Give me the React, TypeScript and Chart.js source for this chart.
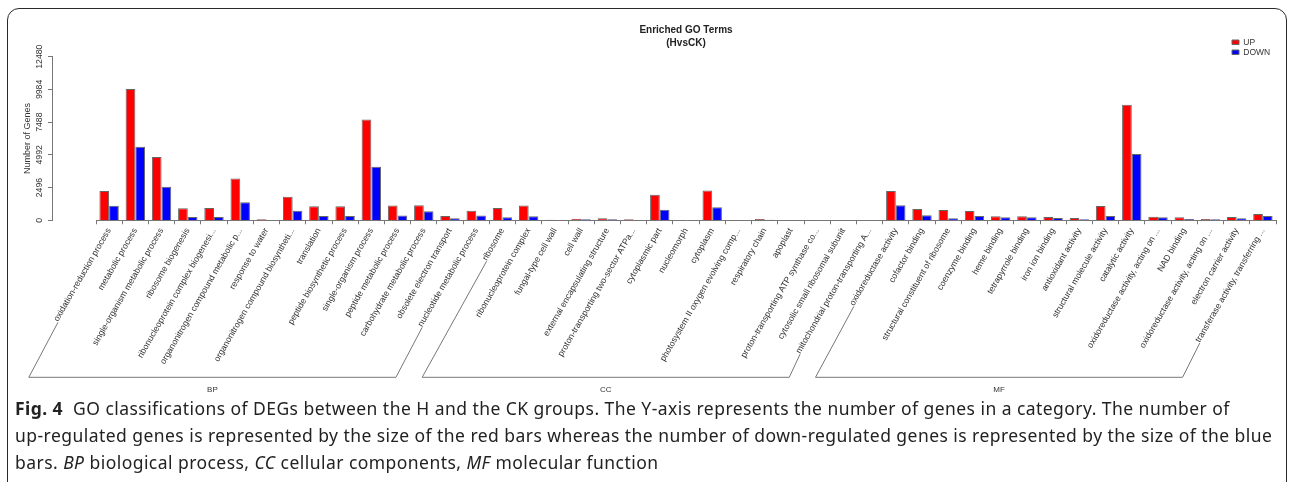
import React, { useEffect, useRef } from 'react';
import { Chart, registerables } from 'chart.js';

Chart.register(...registerables);

// ---------- data ----------
const categories: string[] = [
  'oxidation-reduction process',
  'metabolic process',
  'single-organism metabolic process',
  'ribosome biogenesis',
  'ribonucleoprotein complex biogenesi...',
  'organonitrogen compound metabolic p...',
  'response to water',
  'organonitrogen compound biosyntheti...',
  'translation',
  'peptide biosynthetic process',
  'single-organism process',
  'peptide metabolic process',
  'carbohydrate metabolic process',
  'obsolete electron transport',
  'nucleotide metabolic process',
  'ribosome',
  'ribonucleoprotein complex',
  'fungal-type cell wall',
  'cell wall',
  'external encapsulating structure',
  'proton-transporting two-sector ATPa...',
  'cytoplasmic part',
  'nucleomorph',
  'cytoplasm',
  'photosystem II oxygen evolving comp...',
  'respiratory chain',
  'apoplast',
  'proton-transporting ATP synthase co...',
  'cytosolic small ribosomal subunit',
  'mitochondrial proton-transporting A...',
  'oxidoreductase activity',
  'cofactor binding',
  'structural constituent of ribosome',
  'coenzyme binding',
  'heme binding',
  'tetrapyrrole binding',
  'iron ion binding',
  'antioxidant activity',
  'structural molecule activity',
  'catalytic activity',
  'oxidoreductase activity, acting on ...',
  'NAD binding',
  'oxidoreductase activity, acting on ...',
  'electron carrier activity',
  'transferase activity, transferring ...',
];

const upValues: number[] = [
  2240, 10020, 4830, 920, 940, 3180, 76, 1800, 1070, 1070, 7680, 1120, 1140, 330, 730,
  940, 1120, 50, 115, 150, 76, 1950, 0, 2280, 30, 100, 20, 20, 15, 10,
  2240, 860, 790, 710, 305, 305, 250, 176, 1090, 8820, 280, 230, 100, 250, 480,
];

const downValues: number[] = [
  1110, 5620, 2560, 250, 250, 1370, 0, 730, 330, 330, 4090, 360, 690, 150, 360,
  230, 305, 30, 76, 76, 30, 810, 0, 990, 20, 40, 15, 10, 10, 5,
  1140, 380, 150, 330, 230, 230, 176, 76, 330, 5060, 230, 100, 76, 150, 330,
];

const seriesNames: string[] = ['UP', 'DOWN'];
const yTicks: number[] = [0, 2496, 4992, 7488, 9984, 12480];
const groupNames: string[] = ['BP', 'CC', 'MF'];
const groupSizes: number[] = [15, 15, 15];
const titleLines: string[] = ['Enriched GO Terms', '(HvsCK)'];
const yAxisTitle = 'Number of Genes';

// ---------- styles ----------
const FONT = '"Liberation Sans", Arial, sans-serif';
const TICK_SIZE = 8.7;
const TICK_LEN = 4;
const TICK_PAD = 2;
const LABEL_ROT = 60;
const AXIS_COLOR = '#777777';
const TEXT_COLOR = '#333333';

const bracketPlugin = {
  id: 'goBrackets',
  afterDraw(chart: any) {
    const xs = chart.scales.x;
    const ctx: CanvasRenderingContext2D = chart.ctx;
    const rot = (LABEL_ROT * Math.PI) / 180;
    const diagTan = Math.tan((62 * Math.PI) / 180);
    const yA = xs.top + TICK_LEN + TICK_PAD;
    const yBase = yA + 151;
    ctx.save();
    ctx.font = `${TICK_SIZE}px ${FONT}`;
    ctx.strokeStyle = AXIS_COLOR;
    ctx.lineWidth = 1;
    let start = 0;
    groupSizes.forEach((n, g) => {
      const ends = [start, start + n - 1].map((i) => {
        const cx = xs.getPixelForValue(i);
        const w = ctx.measureText(categories[i]).width;
        return {
          top: { x: cx - w * Math.cos(rot) + 2, y: yA + w * Math.sin(rot) + 4 },
          bottom: { x: cx - (yBase - yA) / diagTan, y: yBase },
        };
      });
      ctx.beginPath();
      ctx.moveTo(ends[0].top.x, ends[0].top.y);
      ctx.lineTo(ends[0].bottom.x, ends[0].bottom.y);
      ctx.lineTo(ends[1].bottom.x, ends[1].bottom.y);
      ctx.lineTo(ends[1].top.x, ends[1].top.y);
      ctx.stroke();
      ctx.save();
      ctx.font = `8px ${FONT}`;
      ctx.fillStyle = TEXT_COLOR;
      ctx.textAlign = 'center';
      ctx.textBaseline = 'middle';
      ctx.fillText(groupNames[g], (ends[0].bottom.x + ends[1].bottom.x) / 2, yBase + 12);
      ctx.restore();
      start += n;
    });
    ctx.restore();
  },
};

const legendPlacer = {
  id: 'legendPlacer',
  afterLayout(chart: any) {
    const lg = chart.legend;
    if (!lg) return;
    const ca = chart.chartArea;
    lg.left = ca.right - 45.5;
    lg.right = lg.left + 60;
    lg.top = ca.top - 20.2;
    lg.bottom = lg.top + 60;
  },
};

export default function App() {
  const canvasRef = useRef<HTMLCanvasElement | null>(null);

  useEffect(() => {
    if (!canvasRef.current) return;
    const chart = new Chart(canvasRef.current, {
      type: 'bar',
      data: {
        labels: categories,
        datasets: [
          {
            label: seriesNames[0],
            data: upValues,
            backgroundColor: '#ff0000',
            borderColor: '#666666',
            borderWidth: 1,
          },
          {
            label: seriesNames[1],
            data: downValues,
            backgroundColor: '#0000ff',
            borderColor: '#666666',
            borderWidth: 1,
          },
        ],
      },
      plugins: [bracketPlugin, legendPlacer],
      options: {
        responsive: false,
        animation: false,
        events: [],
        layout: { padding: { left: 0, right: 13, top: 0, bottom: 0 } },
        datasets: {
          bar: { categoryPercentage: 0.74, barPercentage: 1.0 },
        },
        scales: {
          x: {
            type: 'category',
            offset: true,
            grid: {
              display: true,
              offset: true,
              drawOnChartArea: false,
              drawTicks: true,
              tickLength: TICK_LEN,
              color: AXIS_COLOR,
            },
            border: { display: true, color: AXIS_COLOR, width: 1 },
            ticks: {
              autoSkip: false,
              minRotation: LABEL_ROT,
              maxRotation: LABEL_ROT,
              padding: TICK_PAD,
              color: TEXT_COLOR,
              font: { family: FONT, size: TICK_SIZE },
            },
            afterFit: (s: any) => {
              s.height = 179.7;
            },
          },
          y: {
            min: 0,
            max: 12480,
            position: 'left',
            weight: 0,
            grid: { display: false },
            border: { display: false },
            ticks: { display: false },
            afterFit: (s: any) => {
              s.width = 44;
            },
          },
          y2: {
            min: 0,
            max: 12480,
            position: 'left',
            weight: 1,
            grid: {
              display: true,
              drawOnChartArea: false,
              drawTicks: true,
              tickLength: TICK_LEN,
              color: AXIS_COLOR,
            },
            border: { display: true, color: AXIS_COLOR, width: 1 },
            afterBuildTicks: (s: any) => {
              s.ticks = yTicks.map((v) => ({ value: v }));
            },
            ticks: {
              minRotation: 90,
              maxRotation: 90,
              crossAlign: 'center',
              padding: -3.5,
              color: TEXT_COLOR,
              font: { family: FONT, size: TICK_SIZE },
              callback: (v: any) => String(v),
            },
            title: {
              display: true,
              text: yAxisTitle,
              color: TEXT_COLOR,
              font: { family: FONT, size: 9, lineHeight: 1.2 },
              padding: { top: 21.9, bottom: 0 },
            },
            afterFit: (s: any) => {
              s.width = 52;
            },
          },
        },
        plugins: {
          title: {
            display: true,
            text: titleLines,
            color: '#222222',
            fullSize: false,
            font: { family: FONT, size: 10, weight: 'bold', lineHeight: 1.3 },
            padding: { top: 23.5, bottom: 7.2 },
          },
          legend: {
            display: true,
            position: 'chartArea',
            align: 'start',
            labels: {
              boxWidth: 7,
              boxHeight: 4.5,
              padding: 1.5,
              color: TEXT_COLOR,
              font: { family: FONT, size: 8.5 },
            },
          },
          tooltip: { enabled: false },
        },
      } as any,
    });
    return () => chart.destroy();
  }, []);

  const captionLine: React.CSSProperties = {
    whiteSpace: 'nowrap',
    height: '27px',
    lineHeight: '27px',
  };

  return (
    <div
      style={{
        position: 'fixed',
        left: 0,
        top: 0,
        width: '1289px',
        height: '482px',
        overflow: 'hidden',
        background: '#ffffff',
      }}
    >
      <div
        style={{
          position: 'absolute',
          left: '7px',
          top: '8px',
          width: '1280px',
          height: '520px',
          border: '1.5px solid #2a2a2a',
          borderRadius: '12px',
          boxSizing: 'border-box',
        }}
      />
      <canvas
        ref={canvasRef}
        width={1289}
        height={400}
        style={{ position: 'absolute', left: 0, top: 0, width: '1289px', height: '400px' }}
      />
      <div
        style={{
          position: 'absolute',
          left: '15px',
          top: '395px',
          fontFamily: '"Noto Sans", "Open Sans", sans-serif',
          fontSize: '17.5px',
          letterSpacing: '0.45px',
          color: '#222',
        }}
      >
        <div style={captionLine}>
          <b>Fig. 4</b>&nbsp; GO classifications of DEGs between the H and the CK groups. The Y-axis represents the number of genes in a category. The number of
        </div>
        <div style={captionLine}>
          up-regulated genes is represented by the size of the red bars whereas the number of down-regulated genes is represented by the size of the blue
        </div>
        <div style={captionLine}>
          bars. <i>BP</i> biological process, <i>CC</i> cellular components, <i>MF</i> molecular function
        </div>
      </div>
    </div>
  );
}
